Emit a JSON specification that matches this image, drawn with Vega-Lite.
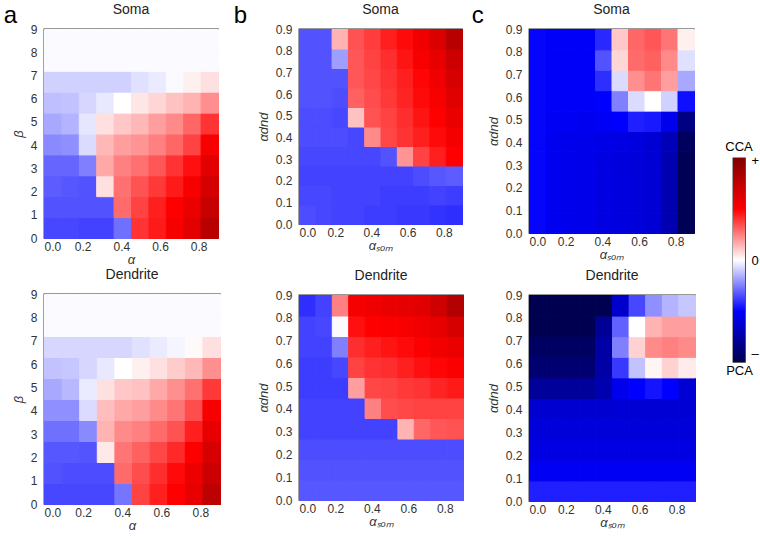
{
 "$schema": "https://vega.github.io/schema/vega-lite/v6.json",
 "padding": {"left": 3, "top": 2, "right": 0, "bottom": 0},
 "background": "white",
 "config": {
  "font": "Liberation Sans",
  "view": {"stroke": "#333333", "strokeWidth": 1.3},
  "axis": {"ticks": false, "domain": false, "grid": false, "labelFont": "Liberation Sans", "labelFontSize": 12, "labelColor": "#333333", "titleFont": "Liberation Sans", "titleFontSize": 13, "titleFontWeight": "normal", "titleFontStyle": "italic", "titleColor": "#333333"},
  "axisX": {"labelPadding": 3, "titlePadding": 1},
  "axisY": {"labelPadding": 7, "titlePadding": 5},
  "title": {"font": "Liberation Sans", "fontSize": 14, "fontWeight": "normal", "color": "#222222", "offset": 6}
 },
 "datasets": {
  "aS": [
   {"x":0,"y":0,"v":-0.36},{"x":0.09,"y":0,"v":-0.36},{"x":0.18,"y":0,"v":-0.37},{"x":0.27,"y":0,"v":-0.37},{"x":0.36,"y":0,"v":-0.28},{"x":0.45,"y":0,"v":0.4},{"x":0.54,"y":0,"v":0.45},{"x":0.63,"y":0,"v":0.53},{"x":0.72,"y":0,"v":0.61},{"x":0.81,"y":0,"v":0.78},
   {"x":0,"y":0.9,"v":-0.34},{"x":0.09,"y":0.9,"v":-0.34},{"x":0.18,"y":0.9,"v":-0.34},{"x":0.27,"y":0.9,"v":-0.34},{"x":0.36,"y":0.9,"v":0.29},{"x":0.45,"y":0.9,"v":0.37},{"x":0.54,"y":0.9,"v":0.44},{"x":0.63,"y":0.9,"v":0.5},{"x":0.72,"y":0.9,"v":0.58},{"x":0.81,"y":0.9,"v":0.72},
   {"x":0,"y":1.8,"v":-0.32},{"x":0.09,"y":1.8,"v":-0.33},{"x":0.18,"y":1.8,"v":-0.34},{"x":0.27,"y":1.8,"v":0.06},{"x":0.36,"y":1.8,"v":0.28},{"x":0.45,"y":1.8,"v":0.34},{"x":0.54,"y":1.8,"v":0.39},{"x":0.63,"y":1.8,"v":0.45},{"x":0.72,"y":1.8,"v":0.53},{"x":0.81,"y":1.8,"v":0.67},
   {"x":0,"y":2.7,"v":-0.3},{"x":0.09,"y":2.7,"v":-0.3},{"x":0.18,"y":2.7,"v":-0.25},{"x":0.27,"y":2.7,"v":0.17},{"x":0.36,"y":2.7,"v":0.25},{"x":0.45,"y":2.7,"v":0.28},{"x":0.54,"y":2.7,"v":0.33},{"x":0.63,"y":2.7,"v":0.4},{"x":0.72,"y":2.7,"v":0.47},{"x":0.81,"y":2.7,"v":0.61},
   {"x":0,"y":3.6,"v":-0.23},{"x":0.09,"y":3.6,"v":-0.22},{"x":0.18,"y":3.6,"v":-0.07},{"x":0.27,"y":3.6,"v":0.14},{"x":0.36,"y":3.6,"v":0.19},{"x":0.45,"y":3.6,"v":0.21},{"x":0.54,"y":3.6,"v":0.25},{"x":0.63,"y":3.6,"v":0.3},{"x":0.72,"y":3.6,"v":0.37},{"x":0.81,"y":3.6,"v":0.53},
   {"x":0,"y":4.5,"v":-0.17},{"x":0.09,"y":4.5,"v":-0.15},{"x":0.18,"y":4.5,"v":-0.05},{"x":0.27,"y":4.5,"v":0.06},{"x":0.36,"y":4.5,"v":0.11},{"x":0.45,"y":4.5,"v":0.14},{"x":0.54,"y":4.5,"v":0.19},{"x":0.63,"y":4.5,"v":0.23},{"x":0.72,"y":4.5,"v":0.3},{"x":0.81,"y":4.5,"v":0.4},
   {"x":0,"y":5.4,"v":-0.125},{"x":0.09,"y":5.4,"v":-0.12},{"x":0.18,"y":5.4,"v":-0.08},{"x":0.27,"y":5.4,"v":-0.045},{"x":0.36,"y":5.4,"v":0},{"x":0.45,"y":5.4,"v":0.05},{"x":0.54,"y":5.4,"v":0.08},{"x":0.63,"y":5.4,"v":0.12},{"x":0.72,"y":5.4,"v":0.15},{"x":0.81,"y":5.4,"v":0.22},
   {"x":0,"y":6.3,"v":-0.09},{"x":0.09,"y":6.3,"v":-0.09},{"x":0.18,"y":6.3,"v":-0.09},{"x":0.27,"y":6.3,"v":-0.09},{"x":0.36,"y":6.3,"v":-0.09},{"x":0.45,"y":6.3,"v":-0.06},{"x":0.54,"y":6.3,"v":-0.04},{"x":0.63,"y":6.3,"v":-0.01},{"x":0.72,"y":6.3,"v":0.03},{"x":0.81,"y":6.3,"v":0.06},
   {"x":0,"y":7.2,"v":-0.01},{"x":0.09,"y":7.2,"v":-0.01},{"x":0.18,"y":7.2,"v":-0.01},{"x":0.27,"y":7.2,"v":-0.01},{"x":0.36,"y":7.2,"v":-0.01},{"x":0.45,"y":7.2,"v":-0.01},{"x":0.54,"y":7.2,"v":-0.01},{"x":0.63,"y":7.2,"v":-0.01},{"x":0.72,"y":7.2,"v":-0.01},{"x":0.81,"y":7.2,"v":-0.01},
   {"x":0,"y":8.1,"v":-0.01},{"x":0.09,"y":8.1,"v":-0.01},{"x":0.18,"y":8.1,"v":-0.01},{"x":0.27,"y":8.1,"v":-0.01},{"x":0.36,"y":8.1,"v":-0.01},{"x":0.45,"y":8.1,"v":-0.01},{"x":0.54,"y":8.1,"v":-0.01},{"x":0.63,"y":8.1,"v":-0.01},{"x":0.72,"y":8.1,"v":-0.01},{"x":0.81,"y":8.1,"v":-0.01}
  ],
  "aD": [
   {"x":0,"y":0,"v":-0.36},{"x":0.09,"y":0,"v":-0.36},{"x":0.18,"y":0,"v":-0.36},{"x":0.27,"y":0,"v":-0.36},{"x":0.36,"y":0,"v":-0.27},{"x":0.45,"y":0,"v":0.37},{"x":0.54,"y":0,"v":0.44},{"x":0.63,"y":0,"v":0.5},{"x":0.72,"y":0,"v":0.59},{"x":0.81,"y":0,"v":0.76},
   {"x":0,"y":0.9,"v":-0.34},{"x":0.09,"y":0.9,"v":-0.35},{"x":0.18,"y":0.9,"v":-0.35},{"x":0.27,"y":0.9,"v":-0.35},{"x":0.36,"y":0.9,"v":0.29},{"x":0.45,"y":0.9,"v":0.35},{"x":0.54,"y":0.9,"v":0.41},{"x":0.63,"y":0.9,"v":0.48},{"x":0.72,"y":0.9,"v":0.57},{"x":0.81,"y":0.9,"v":0.7},
   {"x":0,"y":1.8,"v":-0.33},{"x":0.09,"y":1.8,"v":-0.33},{"x":0.18,"y":1.8,"v":-0.335},{"x":0.27,"y":1.8,"v":0.045},{"x":0.36,"y":1.8,"v":0.27},{"x":0.45,"y":1.8,"v":0.31},{"x":0.54,"y":1.8,"v":0.36},{"x":0.63,"y":1.8,"v":0.42},{"x":0.72,"y":1.8,"v":0.51},{"x":0.81,"y":1.8,"v":0.66},
   {"x":0,"y":2.7,"v":-0.28},{"x":0.09,"y":2.7,"v":-0.28},{"x":0.18,"y":2.7,"v":-0.23},{"x":0.27,"y":2.7,"v":0.15},{"x":0.36,"y":2.7,"v":0.23},{"x":0.45,"y":2.7,"v":0.25},{"x":0.54,"y":2.7,"v":0.29},{"x":0.63,"y":2.7,"v":0.34},{"x":0.72,"y":2.7,"v":0.44},{"x":0.81,"y":2.7,"v":0.59},
   {"x":0,"y":3.6,"v":-0.22},{"x":0.09,"y":3.6,"v":-0.22},{"x":0.18,"y":3.6,"v":-0.07},{"x":0.27,"y":3.6,"v":0.13},{"x":0.36,"y":3.6,"v":0.17},{"x":0.45,"y":3.6,"v":0.19},{"x":0.54,"y":3.6,"v":0.23},{"x":0.63,"y":3.6,"v":0.27},{"x":0.72,"y":3.6,"v":0.35},{"x":0.81,"y":3.6,"v":0.53},
   {"x":0,"y":4.5,"v":-0.17},{"x":0.09,"y":4.5,"v":-0.14},{"x":0.18,"y":4.5,"v":-0.04},{"x":0.27,"y":4.5,"v":0.06},{"x":0.36,"y":4.5,"v":0.11},{"x":0.45,"y":4.5,"v":0.12},{"x":0.54,"y":4.5,"v":0.17},{"x":0.63,"y":4.5,"v":0.22},{"x":0.72,"y":4.5,"v":0.28},{"x":0.81,"y":4.5,"v":0.39},
   {"x":0,"y":5.4,"v":-0.12},{"x":0.09,"y":5.4,"v":-0.11},{"x":0.18,"y":5.4,"v":-0.08},{"x":0.27,"y":5.4,"v":-0.045},{"x":0.36,"y":5.4,"v":0},{"x":0.45,"y":5.4,"v":0.03},{"x":0.54,"y":5.4,"v":0.06},{"x":0.63,"y":5.4,"v":0.1},{"x":0.72,"y":5.4,"v":0.14},{"x":0.81,"y":5.4,"v":0.22},
   {"x":0,"y":6.3,"v":-0.08},{"x":0.09,"y":6.3,"v":-0.08},{"x":0.18,"y":6.3,"v":-0.08},{"x":0.27,"y":6.3,"v":-0.08},{"x":0.36,"y":6.3,"v":-0.08},{"x":0.45,"y":6.3,"v":-0.06},{"x":0.54,"y":6.3,"v":-0.04},{"x":0.63,"y":6.3,"v":-0.02},{"x":0.72,"y":6.3,"v":0.01},{"x":0.81,"y":6.3,"v":0.06},
   {"x":0,"y":7.2,"v":-0.01},{"x":0.09,"y":7.2,"v":-0.01},{"x":0.18,"y":7.2,"v":-0.01},{"x":0.27,"y":7.2,"v":-0.01},{"x":0.36,"y":7.2,"v":-0.01},{"x":0.45,"y":7.2,"v":-0.01},{"x":0.54,"y":7.2,"v":-0.01},{"x":0.63,"y":7.2,"v":-0.01},{"x":0.72,"y":7.2,"v":-0.01},{"x":0.81,"y":7.2,"v":-0.01},
   {"x":0,"y":8.1,"v":-0.01},{"x":0.09,"y":8.1,"v":-0.01},{"x":0.18,"y":8.1,"v":-0.01},{"x":0.27,"y":8.1,"v":-0.01},{"x":0.36,"y":8.1,"v":-0.01},{"x":0.45,"y":8.1,"v":-0.01},{"x":0.54,"y":8.1,"v":-0.01},{"x":0.63,"y":8.1,"v":-0.01},{"x":0.72,"y":8.1,"v":-0.01},{"x":0.81,"y":8.1,"v":-0.01}
  ],
  "bS": [
   {"x":0,"y":0,"v":-0.35},{"x":0.09,"y":0,"v":-0.36},{"x":0.18,"y":0,"v":-0.37},{"x":0.27,"y":0,"v":-0.37},{"x":0.36,"y":0,"v":-0.38},{"x":0.45,"y":0,"v":-0.38},{"x":0.54,"y":0,"v":-0.39},{"x":0.63,"y":0,"v":-0.39},{"x":0.72,"y":0,"v":-0.4},{"x":0.81,"y":0,"v":-0.41},
   {"x":0,"y":0.09,"v":-0.36},{"x":0.09,"y":0.09,"v":-0.36},{"x":0.18,"y":0.09,"v":-0.37},{"x":0.27,"y":0.09,"v":-0.37},{"x":0.36,"y":0.09,"v":-0.37},{"x":0.45,"y":0.09,"v":-0.38},{"x":0.54,"y":0.09,"v":-0.38},{"x":0.63,"y":0.09,"v":-0.38},{"x":0.72,"y":0.09,"v":-0.37},{"x":0.81,"y":0.09,"v":-0.38},
   {"x":0,"y":0.18,"v":-0.37},{"x":0.09,"y":0.18,"v":-0.37},{"x":0.18,"y":0.18,"v":-0.37},{"x":0.27,"y":0.18,"v":-0.37},{"x":0.36,"y":0.18,"v":-0.37},{"x":0.45,"y":0.18,"v":-0.37},{"x":0.54,"y":0.18,"v":-0.37},{"x":0.63,"y":0.18,"v":-0.35},{"x":0.72,"y":0.18,"v":-0.33},{"x":0.81,"y":0.18,"v":-0.32},
   {"x":0,"y":0.27,"v":-0.36},{"x":0.09,"y":0.27,"v":-0.36},{"x":0.18,"y":0.27,"v":-0.36},{"x":0.27,"y":0.27,"v":-0.36},{"x":0.36,"y":0.27,"v":-0.36},{"x":0.45,"y":0.27,"v":-0.34},{"x":0.54,"y":0.27,"v":0.21},{"x":0.63,"y":0.27,"v":0.37},{"x":0.72,"y":0.27,"v":0.44},{"x":0.81,"y":0.27,"v":0.5},
   {"x":0,"y":0.36,"v":-0.35},{"x":0.09,"y":0.36,"v":-0.35},{"x":0.18,"y":0.36,"v":-0.35},{"x":0.27,"y":0.36,"v":-0.36},{"x":0.36,"y":0.36,"v":0.23},{"x":0.45,"y":0.36,"v":0.36},{"x":0.54,"y":0.36,"v":0.4},{"x":0.63,"y":0.36,"v":0.44},{"x":0.72,"y":0.36,"v":0.48},{"x":0.81,"y":0.36,"v":0.54},
   {"x":0,"y":0.45,"v":-0.35},{"x":0.09,"y":0.45,"v":-0.35},{"x":0.18,"y":0.45,"v":-0.36},{"x":0.27,"y":0.45,"v":0.12},{"x":0.36,"y":0.45,"v":0.34},{"x":0.45,"y":0.45,"v":0.37},{"x":0.54,"y":0.45,"v":0.41},{"x":0.63,"y":0.45,"v":0.46},{"x":0.72,"y":0.45,"v":0.5},{"x":0.81,"y":0.45,"v":0.58},
   {"x":0,"y":0.54,"v":-0.34},{"x":0.09,"y":0.54,"v":-0.34},{"x":0.18,"y":0.54,"v":-0.35},{"x":0.27,"y":0.54,"v":0.31},{"x":0.36,"y":0.54,"v":0.35},{"x":0.45,"y":0.54,"v":0.39},{"x":0.54,"y":0.54,"v":0.43},{"x":0.63,"y":0.54,"v":0.48},{"x":0.72,"y":0.54,"v":0.53},{"x":0.81,"y":0.54,"v":0.62},
   {"x":0,"y":0.63,"v":-0.34},{"x":0.09,"y":0.63,"v":-0.34},{"x":0.18,"y":0.63,"v":-0.34},{"x":0.27,"y":0.63,"v":0.33},{"x":0.36,"y":0.63,"v":0.36},{"x":0.45,"y":0.63,"v":0.4},{"x":0.54,"y":0.63,"v":0.44},{"x":0.63,"y":0.63,"v":0.49},{"x":0.72,"y":0.63,"v":0.56},{"x":0.81,"y":0.63,"v":0.66},
   {"x":0,"y":0.72,"v":-0.34},{"x":0.09,"y":0.72,"v":-0.34},{"x":0.18,"y":0.72,"v":-0.19},{"x":0.27,"y":0.72,"v":0.33},{"x":0.36,"y":0.72,"v":0.37},{"x":0.45,"y":0.72,"v":0.41},{"x":0.54,"y":0.72,"v":0.46},{"x":0.63,"y":0.72,"v":0.53},{"x":0.72,"y":0.72,"v":0.59},{"x":0.81,"y":0.72,"v":0.7},
   {"x":0,"y":0.81,"v":-0.34},{"x":0.09,"y":0.81,"v":-0.34},{"x":0.18,"y":0.81,"v":0.15},{"x":0.27,"y":0.81,"v":0.34},{"x":0.36,"y":0.81,"v":0.38},{"x":0.45,"y":0.81,"v":0.44},{"x":0.54,"y":0.81,"v":0.48},{"x":0.63,"y":0.81,"v":0.56},{"x":0.72,"y":0.81,"v":0.64},{"x":0.81,"y":0.81,"v":0.78}
  ],
  "bD": [
   {"x":0,"y":0,"v":-0.33},{"x":0.09,"y":0,"v":-0.33},{"x":0.18,"y":0,"v":-0.33},{"x":0.27,"y":0,"v":-0.33},{"x":0.36,"y":0,"v":-0.33},{"x":0.45,"y":0,"v":-0.33},{"x":0.54,"y":0,"v":-0.33},{"x":0.63,"y":0,"v":-0.33},{"x":0.72,"y":0,"v":-0.33},{"x":0.81,"y":0,"v":-0.33},
   {"x":0,"y":0.09,"v":-0.34},{"x":0.09,"y":0.09,"v":-0.34},{"x":0.18,"y":0.09,"v":-0.34},{"x":0.27,"y":0.09,"v":-0.34},{"x":0.36,"y":0.09,"v":-0.34},{"x":0.45,"y":0.09,"v":-0.34},{"x":0.54,"y":0.09,"v":-0.34},{"x":0.63,"y":0.09,"v":-0.34},{"x":0.72,"y":0.09,"v":-0.34},{"x":0.81,"y":0.09,"v":-0.34},
   {"x":0,"y":0.18,"v":-0.35},{"x":0.09,"y":0.18,"v":-0.35},{"x":0.18,"y":0.18,"v":-0.35},{"x":0.27,"y":0.18,"v":-0.35},{"x":0.36,"y":0.18,"v":-0.35},{"x":0.45,"y":0.18,"v":-0.35},{"x":0.54,"y":0.18,"v":-0.35},{"x":0.63,"y":0.18,"v":-0.35},{"x":0.72,"y":0.18,"v":-0.35},{"x":0.81,"y":0.18,"v":-0.35},
   {"x":0,"y":0.27,"v":-0.37},{"x":0.09,"y":0.27,"v":-0.37},{"x":0.18,"y":0.27,"v":-0.37},{"x":0.27,"y":0.27,"v":-0.37},{"x":0.36,"y":0.27,"v":-0.37},{"x":0.45,"y":0.27,"v":-0.37},{"x":0.54,"y":0.27,"v":0.15},{"x":0.63,"y":0.27,"v":0.3},{"x":0.72,"y":0.27,"v":0.33},{"x":0.81,"y":0.27,"v":0.34},
   {"x":0,"y":0.36,"v":-0.37},{"x":0.09,"y":0.36,"v":-0.37},{"x":0.18,"y":0.36,"v":-0.37},{"x":0.27,"y":0.36,"v":-0.37},{"x":0.36,"y":0.36,"v":0.25},{"x":0.45,"y":0.36,"v":0.35},{"x":0.54,"y":0.36,"v":0.36},{"x":0.63,"y":0.36,"v":0.37},{"x":0.72,"y":0.36,"v":0.37},{"x":0.81,"y":0.36,"v":0.37},
   {"x":0,"y":0.45,"v":-0.38},{"x":0.09,"y":0.45,"v":-0.38},{"x":0.18,"y":0.45,"v":-0.38},{"x":0.27,"y":0.45,"v":0.19},{"x":0.36,"y":0.45,"v":0.36},{"x":0.45,"y":0.45,"v":0.37},{"x":0.54,"y":0.45,"v":0.39},{"x":0.63,"y":0.45,"v":0.4},{"x":0.72,"y":0.45,"v":0.43},{"x":0.81,"y":0.45,"v":0.45},
   {"x":0,"y":0.54,"v":-0.38},{"x":0.09,"y":0.54,"v":-0.38},{"x":0.18,"y":0.54,"v":-0.36},{"x":0.27,"y":0.54,"v":0.37},{"x":0.36,"y":0.54,"v":0.4},{"x":0.45,"y":0.54,"v":0.41},{"x":0.54,"y":0.54,"v":0.44},{"x":0.63,"y":0.54,"v":0.47},{"x":0.72,"y":0.54,"v":0.49},{"x":0.81,"y":0.54,"v":0.52},
   {"x":0,"y":0.63,"v":-0.37},{"x":0.09,"y":0.63,"v":-0.37},{"x":0.18,"y":0.63,"v":-0.25},{"x":0.27,"y":0.63,"v":0.41},{"x":0.36,"y":0.63,"v":0.44},{"x":0.45,"y":0.63,"v":0.46},{"x":0.54,"y":0.63,"v":0.48},{"x":0.63,"y":0.63,"v":0.51},{"x":0.72,"y":0.63,"v":0.55},{"x":0.81,"y":0.63,"v":0.58},
   {"x":0,"y":0.72,"v":-0.37},{"x":0.09,"y":0.72,"v":-0.36},{"x":0.18,"y":0.72,"v":-0.01},{"x":0.27,"y":0.72,"v":0.47},{"x":0.36,"y":0.72,"v":0.5},{"x":0.45,"y":0.72,"v":0.51},{"x":0.54,"y":0.72,"v":0.53},{"x":0.63,"y":0.72,"v":0.56},{"x":0.72,"y":0.72,"v":0.59},{"x":0.81,"y":0.72,"v":0.66},
   {"x":0,"y":0.81,"v":-0.41},{"x":0.09,"y":0.81,"v":-0.37},{"x":0.18,"y":0.81,"v":0.25},{"x":0.27,"y":0.81,"v":0.53},{"x":0.36,"y":0.81,"v":0.56},{"x":0.45,"y":0.81,"v":0.58},{"x":0.54,"y":0.81,"v":0.6},{"x":0.63,"y":0.81,"v":0.62},{"x":0.72,"y":0.81,"v":0.69},{"x":0.81,"y":0.81,"v":0.8}
  ],
  "cS": [
   {"x":0,"y":0,"v":-0.49},{"x":0.09,"y":0,"v":-0.54},{"x":0.18,"y":0,"v":-0.55},{"x":0.27,"y":0,"v":-0.56},{"x":0.36,"y":0,"v":-0.58},{"x":0.45,"y":0,"v":-0.59},{"x":0.54,"y":0,"v":-0.6},{"x":0.63,"y":0,"v":-0.62},{"x":0.72,"y":0,"v":-0.72},{"x":0.81,"y":0,"v":-0.98},
   {"x":0,"y":0.09,"v":-0.49},{"x":0.09,"y":0.09,"v":-0.54},{"x":0.18,"y":0.09,"v":-0.55},{"x":0.27,"y":0.09,"v":-0.56},{"x":0.36,"y":0.09,"v":-0.58},{"x":0.45,"y":0.09,"v":-0.59},{"x":0.54,"y":0.09,"v":-0.6},{"x":0.63,"y":0.09,"v":-0.62},{"x":0.72,"y":0.09,"v":-0.72},{"x":0.81,"y":0.09,"v":-0.98},
   {"x":0,"y":0.18,"v":-0.49},{"x":0.09,"y":0.18,"v":-0.54},{"x":0.18,"y":0.18,"v":-0.55},{"x":0.27,"y":0.18,"v":-0.56},{"x":0.36,"y":0.18,"v":-0.58},{"x":0.45,"y":0.18,"v":-0.59},{"x":0.54,"y":0.18,"v":-0.6},{"x":0.63,"y":0.18,"v":-0.62},{"x":0.72,"y":0.18,"v":-0.72},{"x":0.81,"y":0.18,"v":-0.98},
   {"x":0,"y":0.27,"v":-0.49},{"x":0.09,"y":0.27,"v":-0.54},{"x":0.18,"y":0.27,"v":-0.55},{"x":0.27,"y":0.27,"v":-0.56},{"x":0.36,"y":0.27,"v":-0.58},{"x":0.45,"y":0.27,"v":-0.59},{"x":0.54,"y":0.27,"v":-0.6},{"x":0.63,"y":0.27,"v":-0.62},{"x":0.72,"y":0.27,"v":-0.72},{"x":0.81,"y":0.27,"v":-0.98},
   {"x":0,"y":0.36,"v":-0.49},{"x":0.09,"y":0.36,"v":-0.54},{"x":0.18,"y":0.36,"v":-0.55},{"x":0.27,"y":0.36,"v":-0.56},{"x":0.36,"y":0.36,"v":-0.57},{"x":0.45,"y":0.36,"v":-0.58},{"x":0.54,"y":0.36,"v":-0.59},{"x":0.63,"y":0.36,"v":-0.62},{"x":0.72,"y":0.36,"v":-0.7},{"x":0.81,"y":0.36,"v":-0.95},
   {"x":0,"y":0.45,"v":-0.49},{"x":0.09,"y":0.45,"v":-0.53},{"x":0.18,"y":0.45,"v":-0.53},{"x":0.27,"y":0.45,"v":-0.54},{"x":0.36,"y":0.45,"v":-0.53},{"x":0.45,"y":0.45,"v":-0.5},{"x":0.54,"y":0.45,"v":-0.44},{"x":0.63,"y":0.45,"v":-0.45},{"x":0.72,"y":0.45,"v":-0.55},{"x":0.81,"y":0.45,"v":-0.85},
   {"x":0,"y":0.54,"v":-0.49},{"x":0.09,"y":0.54,"v":-0.52},{"x":0.18,"y":0.54,"v":-0.52},{"x":0.27,"y":0.54,"v":-0.52},{"x":0.36,"y":0.54,"v":-0.5},{"x":0.45,"y":0.54,"v":-0.25},{"x":0.54,"y":0.54,"v":-0.07},{"x":0.63,"y":0.54,"v":0},{"x":0.72,"y":0.54,"v":-0.09},{"x":0.81,"y":0.54,"v":-0.47},
   {"x":0,"y":0.63,"v":-0.49},{"x":0.09,"y":0.63,"v":-0.52},{"x":0.18,"y":0.63,"v":-0.52},{"x":0.27,"y":0.63,"v":-0.52},{"x":0.36,"y":0.63,"v":-0.41},{"x":0.45,"y":0.63,"v":-0.07},{"x":0.54,"y":0.63,"v":0.22},{"x":0.63,"y":0.63,"v":0.27},{"x":0.72,"y":0.63,"v":0.19},{"x":0.81,"y":0.63,"v":-0.17},
   {"x":0,"y":0.72,"v":-0.49},{"x":0.09,"y":0.72,"v":-0.52},{"x":0.18,"y":0.72,"v":-0.52},{"x":0.27,"y":0.72,"v":-0.52},{"x":0.36,"y":0.72,"v":-0.34},{"x":0.45,"y":0.72,"v":0.08},{"x":0.54,"y":0.72,"v":0.29},{"x":0.63,"y":0.72,"v":0.31},{"x":0.72,"y":0.72,"v":0.23},{"x":0.81,"y":0.72,"v":-0.06},
   {"x":0,"y":0.81,"v":-0.49},{"x":0.09,"y":0.81,"v":-0.52},{"x":0.18,"y":0.81,"v":-0.52},{"x":0.27,"y":0.81,"v":-0.52},{"x":0.36,"y":0.81,"v":-0.42},{"x":0.45,"y":0.81,"v":0.11},{"x":0.54,"y":0.81,"v":0.3},{"x":0.63,"y":0.81,"v":0.33},{"x":0.72,"y":0.81,"v":0.27},{"x":0.81,"y":0.81,"v":0.03}
  ],
  "cD": [
   {"x":0,"y":0,"v":-0.44},{"x":0.09,"y":0,"v":-0.44},{"x":0.18,"y":0,"v":-0.44},{"x":0.27,"y":0,"v":-0.44},{"x":0.36,"y":0,"v":-0.44},{"x":0.45,"y":0,"v":-0.44},{"x":0.54,"y":0,"v":-0.44},{"x":0.63,"y":0,"v":-0.44},{"x":0.72,"y":0,"v":-0.44},{"x":0.81,"y":0,"v":-0.44},
   {"x":0,"y":0.09,"v":-0.53},{"x":0.09,"y":0.09,"v":-0.53},{"x":0.18,"y":0.09,"v":-0.53},{"x":0.27,"y":0.09,"v":-0.53},{"x":0.36,"y":0.09,"v":-0.53},{"x":0.45,"y":0.09,"v":-0.53},{"x":0.54,"y":0.09,"v":-0.53},{"x":0.63,"y":0.09,"v":-0.53},{"x":0.72,"y":0.09,"v":-0.53},{"x":0.81,"y":0.09,"v":-0.53},
   {"x":0,"y":0.18,"v":-0.58},{"x":0.09,"y":0.18,"v":-0.58},{"x":0.18,"y":0.18,"v":-0.58},{"x":0.27,"y":0.18,"v":-0.58},{"x":0.36,"y":0.18,"v":-0.58},{"x":0.45,"y":0.18,"v":-0.58},{"x":0.54,"y":0.18,"v":-0.58},{"x":0.63,"y":0.18,"v":-0.58},{"x":0.72,"y":0.18,"v":-0.58},{"x":0.81,"y":0.18,"v":-0.58},
   {"x":0,"y":0.27,"v":-0.6},{"x":0.09,"y":0.27,"v":-0.6},{"x":0.18,"y":0.27,"v":-0.6},{"x":0.27,"y":0.27,"v":-0.6},{"x":0.36,"y":0.27,"v":-0.6},{"x":0.45,"y":0.27,"v":-0.6},{"x":0.54,"y":0.27,"v":-0.6},{"x":0.63,"y":0.27,"v":-0.6},{"x":0.72,"y":0.27,"v":-0.6},{"x":0.81,"y":0.27,"v":-0.6},
   {"x":0,"y":0.36,"v":-0.63},{"x":0.09,"y":0.36,"v":-0.63},{"x":0.18,"y":0.36,"v":-0.63},{"x":0.27,"y":0.36,"v":-0.63},{"x":0.36,"y":0.36,"v":-0.63},{"x":0.45,"y":0.36,"v":-0.62},{"x":0.54,"y":0.36,"v":-0.62},{"x":0.63,"y":0.36,"v":-0.62},{"x":0.72,"y":0.36,"v":-0.62},{"x":0.81,"y":0.36,"v":-0.62},
   {"x":0,"y":0.45,"v":-0.78},{"x":0.09,"y":0.45,"v":-0.78},{"x":0.18,"y":0.45,"v":-0.78},{"x":0.27,"y":0.45,"v":-0.78},{"x":0.36,"y":0.45,"v":-0.72},{"x":0.45,"y":0.45,"v":-0.55},{"x":0.54,"y":0.45,"v":-0.5},{"x":0.63,"y":0.45,"v":-0.46},{"x":0.72,"y":0.45,"v":-0.5},{"x":0.81,"y":0.45,"v":-0.62},
   {"x":0,"y":0.54,"v":-0.9},{"x":0.09,"y":0.54,"v":-0.9},{"x":0.18,"y":0.54,"v":-0.9},{"x":0.27,"y":0.54,"v":-0.9},{"x":0.36,"y":0.54,"v":-0.75},{"x":0.45,"y":0.54,"v":-0.39},{"x":0.54,"y":0.54,"v":-0.12},{"x":0.63,"y":0.54,"v":0.02},{"x":0.72,"y":0.54,"v":0.09},{"x":0.81,"y":0.54,"v":0.04},
   {"x":0,"y":0.63,"v":-0.94},{"x":0.09,"y":0.63,"v":-0.94},{"x":0.18,"y":0.63,"v":-0.94},{"x":0.27,"y":0.63,"v":-0.94},{"x":0.36,"y":0.63,"v":-0.75},{"x":0.45,"y":0.63,"v":-0.25},{"x":0.54,"y":0.63,"v":0.09},{"x":0.63,"y":0.63,"v":0.23},{"x":0.72,"y":0.63,"v":0.25},{"x":0.81,"y":0.63,"v":0.23},
   {"x":0,"y":0.72,"v":-0.99},{"x":0.09,"y":0.72,"v":-0.99},{"x":0.18,"y":0.72,"v":-0.99},{"x":0.27,"y":0.72,"v":-0.99},{"x":0.36,"y":0.72,"v":-0.8},{"x":0.45,"y":0.72,"v":-0.31},{"x":0.54,"y":0.72,"v":0},{"x":0.63,"y":0.72,"v":0.15},{"x":0.72,"y":0.72,"v":0.19},{"x":0.81,"y":0.72,"v":0.19},
   {"x":0,"y":0.81,"v":-0.99},{"x":0.09,"y":0.81,"v":-0.99},{"x":0.18,"y":0.81,"v":-0.99},{"x":0.27,"y":0.81,"v":-0.99},{"x":0.36,"y":0.81,"v":-0.99},{"x":0.45,"y":0.81,"v":-0.64},{"x":0.54,"y":0.81,"v":-0.36},{"x":0.63,"y":0.81,"v":-0.22},{"x":0.72,"y":0.81,"v":-0.15},{"x":0.81,"y":0.81,"v":-0.11}
  ],
  "bar": [{"lo": -1, "hi": 1}]
 },
 "spacing": 11,
 "hconcat": [
  {
   "title": {"text": "a", "anchor": "start", "fontSize": 24, "color": "black", "offset": -26, "dx": -8},
   "spacing": 0,
   "vconcat": [
    {"width": 174, "height": 209, "title": "Soma", "data": {"name": "aS"}, "mark": {"type": "rect", "strokeWidth": 1},
     "encoding": {
      "x": {"field": "x", "type": "quantitative", "bin": {"binned": true, "step": 0.09}, "scale": {"domain": [0, 0.9], "nice": false}, "axis": {"values": [0, 0.2, 0.4, 0.6, 0.8], "format": ".1f", "title": "α"}},
      "y": {"field": "y", "type": "quantitative", "bin": {"binned": true, "step": 0.9}, "scale": {"domain": [0, 9], "nice": false}, "axis": {"values": [0, 1, 2, 3, 4, 5, 6, 7, 8, 9], "format": "d", "title": "β"}},
      "color": {"field": "v", "type": "quantitative", "scale": {"domain": [-1, -0.5, 0, 0.5, 1], "range": ["#00004d", "#0000ff", "#ffffff", "#ff0000", "#800000"], "interpolate": "rgb"}, "legend": null},
      "stroke": {"field": "v", "type": "quantitative", "scale": {"domain": [-1, -0.5, 0, 0.5, 1], "range": ["#00004d", "#0000ff", "#ffffff", "#ff0000", "#800000"], "interpolate": "rgb"}, "legend": null}
     }},
    {"width": 176, "height": 210, "title": "Dendrite", "data": {"name": "aD"}, "mark": {"type": "rect", "strokeWidth": 1},
     "encoding": {
      "x": {"field": "x", "type": "quantitative", "bin": {"binned": true, "step": 0.09}, "scale": {"domain": [0, 0.9], "nice": false}, "axis": {"values": [0, 0.2, 0.4, 0.6, 0.8], "format": ".1f", "title": "α"}},
      "y": {"field": "y", "type": "quantitative", "bin": {"binned": true, "step": 0.9}, "scale": {"domain": [0, 9], "nice": false}, "axis": {"values": [0, 1, 2, 3, 4, 5, 6, 7, 8, 9], "format": "d", "title": "β"}},
      "color": {"field": "v", "type": "quantitative", "scale": {"domain": [-1, -0.5, 0, 0.5, 1], "range": ["#00004d", "#0000ff", "#ffffff", "#ff0000", "#800000"], "interpolate": "rgb"}, "legend": null},
      "stroke": {"field": "v", "type": "quantitative", "scale": {"domain": [-1, -0.5, 0, 0.5, 1], "range": ["#00004d", "#0000ff", "#ffffff", "#ff0000", "#800000"], "interpolate": "rgb"}, "legend": null}
     }}
   ]
  },
  {
   "spacing": 27,
   "hconcat": [
    {
     "spacing": 6,
     "hconcat": [
      {
       "title": {"text": "b", "anchor": "start", "fontSize": 24, "color": "black", "offset": -26, "dx": -23},
       "spacing": 15,
       "vconcat": [
        {"width": 163, "height": 195, "title": "Soma", "data": {"name": "bS"}, "mark": {"type": "rect", "strokeWidth": 1},
         "encoding": {
          "x": {"field": "x", "type": "quantitative", "bin": {"binned": true, "step": 0.09}, "scale": {"domain": [0, 0.9], "nice": false}, "axis": {"values": [0, 0.2, 0.4, 0.6, 0.8], "format": ".1f", "title": "αₛₒₘ"}},
          "y": {"field": "y", "type": "quantitative", "bin": {"binned": true, "step": 0.09}, "scale": {"domain": [0, 0.9], "nice": false}, "axis": {"values": [0, 0.1, 0.2, 0.3, 0.4, 0.5, 0.6, 0.7, 0.8, 0.9], "format": ".1f", "title": "αdnd"}},
          "color": {"field": "v", "type": "quantitative", "scale": {"domain": [-1, -0.5, 0, 0.5, 1], "range": ["#00004d", "#0000ff", "#ffffff", "#ff0000", "#800000"], "interpolate": "rgb"}, "legend": null},
          "stroke": {"field": "v", "type": "quantitative", "scale": {"domain": [-1, -0.5, 0, 0.5, 1], "range": ["#00004d", "#0000ff", "#ffffff", "#ff0000", "#800000"], "interpolate": "rgb"}, "legend": null}
         }},
        {"width": 164, "height": 205, "title": "Dendrite", "data": {"name": "bD"}, "mark": {"type": "rect", "strokeWidth": 1},
         "encoding": {
          "x": {"field": "x", "type": "quantitative", "bin": {"binned": true, "step": 0.09}, "scale": {"domain": [0, 0.9], "nice": false}, "axis": {"values": [0, 0.2, 0.4, 0.6, 0.8], "format": ".1f", "title": "αₛₒₘ"}},
          "y": {"field": "y", "type": "quantitative", "bin": {"binned": true, "step": 0.09}, "scale": {"domain": [0, 0.9], "nice": false}, "axis": {"values": [0, 0.1, 0.2, 0.3, 0.4, 0.5, 0.6, 0.7, 0.8, 0.9], "format": ".1f", "title": "αdnd"}},
          "color": {"field": "v", "type": "quantitative", "scale": {"domain": [-1, -0.5, 0, 0.5, 1], "range": ["#00004d", "#0000ff", "#ffffff", "#ff0000", "#800000"], "interpolate": "rgb"}, "legend": null},
          "stroke": {"field": "v", "type": "quantitative", "scale": {"domain": [-1, -0.5, 0, 0.5, 1], "range": ["#00004d", "#0000ff", "#ffffff", "#ff0000", "#800000"], "interpolate": "rgb"}, "legend": null}
         }}
       ]
      },
      {
       "title": {"text": "c", "anchor": "start", "fontSize": 24, "color": "black", "offset": -26, "dx": -15},
       "spacing": 6,
       "vconcat": [
        {"width": 165, "height": 204, "title": "Soma", "data": {"name": "cS"}, "mark": {"type": "rect", "strokeWidth": 1},
         "encoding": {
          "x": {"field": "x", "type": "quantitative", "bin": {"binned": true, "step": 0.09}, "scale": {"domain": [0, 0.9], "nice": false}, "axis": {"values": [0, 0.2, 0.4, 0.6, 0.8], "format": ".1f", "title": "αₛₒₘ"}},
          "y": {"field": "y", "type": "quantitative", "bin": {"binned": true, "step": 0.09}, "scale": {"domain": [0, 0.9], "nice": false}, "axis": {"values": [0, 0.1, 0.2, 0.3, 0.4, 0.5, 0.6, 0.7, 0.8, 0.9], "format": ".1f", "title": "αdnd"}},
          "color": {"field": "v", "type": "quantitative", "scale": {"domain": [-1, -0.5, 0, 0.5, 1], "range": ["#00004d", "#0000ff", "#ffffff", "#ff0000", "#800000"], "interpolate": "rgb"}, "legend": null},
          "stroke": {"field": "v", "type": "quantitative", "scale": {"domain": [-1, -0.5, 0, 0.5, 1], "range": ["#00004d", "#0000ff", "#ffffff", "#ff0000", "#800000"], "interpolate": "rgb"}, "legend": null}
         }},
        {"width": 166, "height": 206, "title": "Dendrite", "data": {"name": "cD"}, "mark": {"type": "rect", "strokeWidth": 1},
         "encoding": {
          "x": {"field": "x", "type": "quantitative", "bin": {"binned": true, "step": 0.09}, "scale": {"domain": [0, 0.9], "nice": false}, "axis": {"values": [0, 0.2, 0.4, 0.6, 0.8], "format": ".1f", "title": "αₛₒₘ"}},
          "y": {"field": "y", "type": "quantitative", "bin": {"binned": true, "step": 0.09}, "scale": {"domain": [0, 0.9], "nice": false}, "axis": {"values": [0, 0.1, 0.2, 0.3, 0.4, 0.5, 0.6, 0.7, 0.8, 0.9], "format": ".1f", "title": "αdnd"}},
          "color": {"field": "v", "type": "quantitative", "scale": {"domain": [-1, -0.5, 0, 0.5, 1], "range": ["#00004d", "#0000ff", "#ffffff", "#ff0000", "#800000"], "interpolate": "rgb"}, "legend": null},
          "stroke": {"field": "v", "type": "quantitative", "scale": {"domain": [-1, -0.5, 0, 0.5, 1], "range": ["#00004d", "#0000ff", "#ffffff", "#ff0000", "#800000"], "interpolate": "rgb"}, "legend": null}
         }}
       ]
      }
     ]
    },
    {
     "spacing": 0,
     "vconcat": [
      {"width": 12, "height": 111, "data": {"values": []}, "mark": "rect", "view": {"stroke": null}},
      {"width": 12, "height": 204, "title": {"text": "CCA", "fontSize": 13, "color": "black", "offset": 0}, "data": {"name": "bar"},
       "mark": {"type": "rect", "fill": {"gradient": "linear", "x1": 0, "y1": 1, "x2": 0, "y2": 0, "stops": [{"offset": 0, "color": "#00004d"}, {"offset": 0.25, "color": "#0000ff"}, {"offset": 0.5, "color": "#ffffff"}, {"offset": 0.75, "color": "#ff0000"}, {"offset": 1, "color": "#800000"}]}},
       "encoding": {
        "y": {"field": "lo", "type": "quantitative", "scale": {"domain": [-1, 1], "nice": false}, "axis": {"orient": "right", "values": [-0.92, 0, 0.98], "labelExpr": "datum.value > 0 ? '+' : (datum.value < 0 ? '–' : '0')", "labelFontSize": 13, "labelColor": "black", "labelPadding": 6, "title": null}},
        "y2": {"field": "hi"},
        "x": {"datum": 0, "type": "quantitative", "scale": {"domain": [0, 1], "nice": false}, "axis": {"title": "PCA", "labels": false, "titleFontStyle": "normal", "titleFontSize": 13, "titleColor": "black", "titlePadding": 2}},
        "x2": {"datum": 1}
       }}
     ]
    }
   ]
  }
 ]
}
